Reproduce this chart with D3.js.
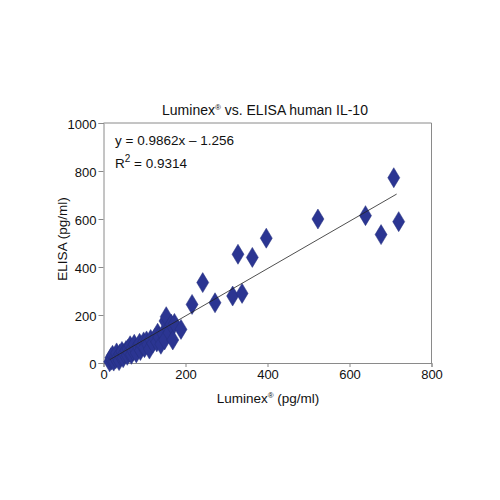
<!DOCTYPE html>
<html>
<head>
<meta charset="utf-8">
<script src="https://cdn.jsdelivr.net/npm/d3@7"></script>
<style>
  body { margin: 0; background: #fff; }
  svg { font-family: "Liberation Sans", Arial, Helvetica, sans-serif; }
</style>
</head>
<body>
<div id="chart"></div>
<script>
// Luminex (x) vs ELISA (y) in pg/ml
const luminex = [15, 18, 20, 22, 25, 28, 30, 32, 35, 38, 40, 42, 45, 48, 50, 55, 58, 60, 62, 65,
  68, 70, 72, 75, 78, 80, 85, 88, 90, 95, 98, 100, 105, 108, 112, 115, 120, 125, 130, 132,
  135, 140, 145, 149, 150, 153, 158, 160, 165, 169, 173, 189, 216, 242, 272, 315, 328, 338,
  363, 397, 523, 639, 677, 708, 720]
const elisa = [5, 22, 12, 32, 8, 25, 18, 42, 24, 10, 38, 28, 48, 22, 40, 52, 32, 58, 44, 72,
  36, 62, 50, 78, 56, 42, 68, 82, 52, 72, 88, 64, 92, 76, 58, 98, 82, 102, 88, 124,
  108, 78, 122, 96, 175, 193, 140, 126, 162, 96, 165, 140, 244, 335, 251, 279, 453, 290,
  440, 520, 600, 614, 535, 772, 589]
const xTicks = [0, 200, 400, 600, 800]
const yTicks = [0, 200, 400, 600, 800, 1000]
const slope = 0.9862
const intercept = -1.256
const fitRange = [15, 715]

const W = 500
const H = 500
const margin = { top: 123, right: 68.5, bottom: 137, left: 103.5 }
const w = W - margin.left - margin.right
const h = H - margin.top - margin.bottom

const svg = d3.select('#chart').append('svg')
  .attr('width', W)
  .attr('height', H)

const g = svg.append('g')
  .attr('transform', 'translate(' + margin.left + ',' + margin.top + ')')

const x = d3.scaleLinear().domain([0, 800]).range([0, w])
const y = d3.scaleLinear().domain([0, 1000]).range([h, 0])

const axisColor = '#8a8a8a'

// frame (top + right)
g.append('path')
  .attr('d', 'M0,0H' + w + 'V' + h)
  .attr('fill', 'none')
  .attr('stroke', axisColor)
  .attr('stroke-width', 1)

const xAxis = g.append('g')
  .attr('transform', 'translate(0,' + h + ')')
  .call(d3.axisBottom(x).tickValues(xTicks).tickFormat(d3.format('d')).tickSize(4).tickPadding(3))
const yAxis = g.append('g')
  .call(d3.axisLeft(y).tickValues(yTicks).tickFormat(d3.format('d')).tickSize(5).tickPadding(2))

;[xAxis, yAxis].forEach(a => {
  a.selectAll('path, line').attr('stroke', axisColor)
  a.selectAll('text').attr('fill', '#111').style('font-size', '13px')
})
yAxis.selectAll('text').attr('dy', '0.4em')

// diamonds
const dw = 6
const dh = 10
const pts = luminex.map((v, i) => [v, elisa[i]])
g.append('g').selectAll('path')
  .data(pts)
  .join('path')
  .attr('transform', d => 'translate(' + x(d[0]) + ',' + y(d[1]) + ')')
  .attr('d', 'M0,' + (-dh) + 'L' + dw + ',0L0,' + dh + 'L' + (-dw) + ',0Z')
  .attr('fill', '#2b3592')
  .attr('stroke', '#24307f')
  .attr('stroke-width', 0.5)

// regression line
g.append('line')
  .attr('x1', x(fitRange[0]))
  .attr('y1', y(slope * fitRange[0] + intercept))
  .attr('x2', x(fitRange[1]))
  .attr('y2', y(slope * fitRange[1] + intercept))
  .attr('stroke', '#222')
  .attr('stroke-width', 0.8)

// title
const title = svg.append('text')
  .attr('x', 265).attr('y', 115)
  .attr('text-anchor', 'middle')
  .style('font-size', '14px')
  .attr('fill', '#111')
title.append('tspan').text('Luminex')
title.append('tspan').text('®').attr('dy', -5).style('font-size', '8px')
title.append('tspan').text(' vs. ELISA human IL-10').attr('dy', 5)

// equation
svg.append('text')
  .attr('x', 115).attr('y', 145)
  .style('font-size', '13.5px')
  .attr('fill', '#111')
  .text('y = 0.9862x \u2013 1.256')
const r2 = svg.append('text')
  .attr('x', 115).attr('y', 168)
  .style('font-size', '13.5px')
  .attr('fill', '#111')
r2.append('tspan').text('R')
r2.append('tspan').text('2').attr('dy', -6).style('font-size', '10px')
r2.append('tspan').text(' = 0.9314').attr('dy', 6)

// axis labels
const xl = svg.append('text')
  .attr('x', 268).attr('y', 403)
  .attr('text-anchor', 'middle')
  .style('font-size', '13.5px')
  .attr('fill', '#111')
xl.append('tspan').text('Luminex')
xl.append('tspan').text('®').attr('dy', -5).style('font-size', '8px')
xl.append('tspan').text(' (pg/ml)').attr('dy', 5)

svg.append('text')
  .attr('transform', 'translate(67,239) rotate(-90)')
  .attr('text-anchor', 'middle')
  .style('font-size', '13.5px')
  .attr('fill', '#111')
  .text('ELISA (pg/ml)')
</script>
</body>
</html>
